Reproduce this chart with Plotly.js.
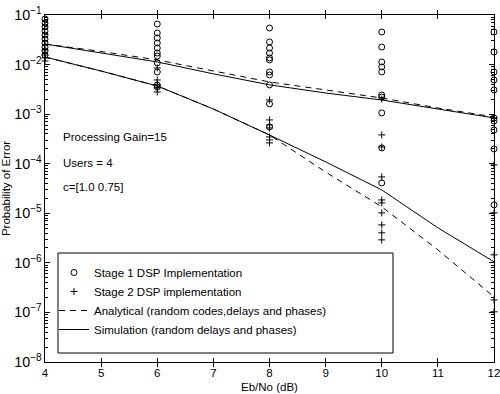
<!DOCTYPE html>
<html>
<head>
<meta charset="utf-8">
<script src="https://cdn.plot.ly/plotly-3.0.1.min.js"></script>
<style>
html,body{margin:0;padding:0;background:#fff;}
#chart{width:500px;height:394px;}
</style>
</head>
<body>
<div id="chart"></div>
<script>
// Eb/No values (dB) for the computed curves
const ebno = [4, 5, 6, 7, 8, 9, 10, 11, 12];

// Analytical (dashed) curves
const analyticalUpper = [2.6e-2, 1.84e-2, 1.24e-2, 7.4e-3, 4.46e-3, 3.08e-3, 2.12e-3, 1.33e-3, 8.8e-4];
const analyticalLower = [1.42e-2, 7.4e-3, 3.7e-3, 1.27e-3, 3.8e-4, 6.8e-5, 1.35e-5, 1.83e-6, 2.06e-7];

// Simulation (solid) curves
const simulationUpper = [2.6e-2, 1.71e-2, 1.13e-2, 6.5e-3, 3.9e-3, 2.67e-3, 1.93e-3, 1.27e-3, 8.4e-4];
const simulationLower = [1.42e-2, 7.4e-3, 3.7e-3, 1.27e-3, 3.8e-4, 1.09e-4, 2.96e-5, 5.1e-6, 1.05e-6];

// Stage 1 DSP implementation (circles)
const stage1X = [
  4,4,4,4,4,4,4,4,4,4,
  6,6,6,6,6,6,6,6,6,6,6,
  8,8,8,8,8,8,8,8,8,8,8,
  10,10,10,10,10,10,10,10,10,10,
  12,12,12,12,12,12,12,12,12,12
];
const stage1Y = [
  8.3e-2, 6.9e-2, 5.73e-2, 4.76e-2, 3.95e-2, 3.28e-2, 2.72e-2, 2.26e-2, 1.88e-2, 1.56e-2,
  6.59e-2, 4.34e-2, 3.44e-2, 2.72e-2, 2.16e-2, 1.71e-2, 1.49e-2, 1.08e-2, 7.1e-3, 3.88e-3, 3.53e-3,
  5.47e-2, 2.86e-2, 2.16e-2, 1.71e-2, 1.36e-2, 1.24e-2, 7.1e-3, 6.17e-3, 3.88e-3, 1.61e-3, 5.52e-4,
  4.54e-2, 2.26e-2, 1.13e-2, 8.95e-3, 7.1e-3, 2.44e-3, 2.22e-3, 1.06e-3, 2.08e-4, 4.1e-5,
  4.54e-2, 1.8e-2, 7.1e-3, 4.89e-3, 3.08e-3, 8.38e-4, 7.29e-4, 4.8e-4, 1.99e-4, 1.48e-5
];

// Stage 2 DSP implementation (pluses)
const stage2X = [
  4,4,4,4,
  6,6,6,6,6,
  8,8,8,8,8,8,8,
  10,10,10,10,10,10,10,10,10,10,
  12,12,12,12,12,12
];
const stage2Y = [
  1.97e-2, 1.56e-2, 1.36e-2, 1.18e-2,
  8.54e-3, 4.89e-3, 3.88e-3, 3.37e-3, 2.8e-3,
  1.93e-3, 7.64e-4, 6.05e-4, 5.27e-4, 3.47e-4, 3.02e-4, 2.63e-4,
  2.02e-3, 3.81e-4, 2.18e-4, 5.42e-5, 1.86e-5, 1.62e-5, 1.02e-5, 5.83e-6, 4.03e-6, 2.91e-6,
  8.38e-4, 9.46e-5, 1.02e-5, 1.45e-6, 1.79e-7, 1.03e-7
];

const xTicks = [4, 5, 6, 7, 8, 9, 10, 11, 12];
const decades = [-8, -7, -6, -5, -4, -3, -2];
const minorDigits = [2, 3, 4, 5, 6, 7, 8, 9];
const notes = ["Processing Gain=15", "Users = 4", "c=[1.0 0.75]"];
const legendNames = [
  "Stage 1 DSP Implementation",
  "Stage 2 DSP implementation",
  "Analytical (random codes,delays and phases)",
  "Simulation (random delays and phases)"
];

// minor tick positions on the log axis (2..9 within each decade)
const minorTickVals = [];
decades.forEach(d => minorDigits.forEach(m => minorTickVals.push(m * Math.pow(10, d))));

const FONT = "Liberation Sans, Arial, Helvetica, sans-serif";
const dashStyle = "6px,5px";

// plot area in pixels (for paper-coordinate placement of legend box and notes)
const PL = 45, PR = 494, PT = 15, PB = 362;
const px = v => (v - PL) / (PR - PL);
const py = v => (PB - v) / (PB - PT);

const traces = [
  {x: stage1X, y: stage1Y, mode: "markers", name: legendNames[0], cliponaxis: false, legendgroup: "g1",
   marker: {symbol: "circle-open", size: 6, color: "#000", line: {width: 1, color: "#000"}}},
  {x: stage2X, y: stage2Y, mode: "markers", name: legendNames[1], cliponaxis: false, legendgroup: "g2",
   marker: {symbol: "cross-thin-open", size: 5, color: "#000", line: {width: 1, color: "#000"}}},
  {x: ebno, y: analyticalUpper, mode: "lines", name: legendNames[2], legendgroup: "g3",
   line: {color: "#000", width: 1, dash: dashStyle}},
  {x: ebno, y: simulationUpper, mode: "lines", name: legendNames[3], legendgroup: "g4",
   line: {color: "#000", width: 1}},
  {x: ebno, y: analyticalLower, mode: "lines", name: legendNames[2], legendgroup: "g3", showlegend: false,
   line: {color: "#000", width: 1, dash: dashStyle}},
  {x: ebno, y: simulationLower, mode: "lines", name: legendNames[3], legendgroup: "g4", showlegend: false,
   line: {color: "#000", width: 1}},
  // carrier for the minor-tick axis (draws nothing visible)
  {x: ebno, y: simulationUpper, mode: "lines", yaxis: "y2", showlegend: false, hoverinfo: "skip",
   line: {color: "rgba(0,0,0,0)", width: 0}}
];

const layout = {
  width: 500, height: 394,
  margin: {l: PL, r: 500 - PR, t: PT, b: 394 - PB, pad: 0},
  paper_bgcolor: "#fff", plot_bgcolor: "#fff",
  font: {family: FONT, size: 11, color: "#000"},
  showlegend: true,
  xaxis: {
    range: [4, 12], tickvals: xTicks, ticktext: xTicks.map(String),
    ticks: "inside", ticklen: 4, tickcolor: "#000", tickwidth: 1,
    showline: true, linecolor: "#000", linewidth: 1, mirror: "allticks",
    showgrid: false, zeroline: false, automargin: false, ticklabeloverflow: "allow",
    tickfont: {family: FONT, size: 11.5, color: "#000"},
    title: {text: "Eb/No (dB)", font: {family: FONT, size: 11.5, color: "#000"}, standoff: 5}
  },
  yaxis: {
    type: "log", range: [-8, -1], dtick: 1,
    exponentformat: "power", showexponent: "all",
    ticks: "inside", ticklen: 5, tickcolor: "#000", tickwidth: 1,
    showline: true, linecolor: "#000", linewidth: 1, mirror: "allticks",
    showgrid: false, zeroline: false, automargin: false, ticklabeloverflow: "allow",
    tickfont: {family: FONT, size: 11.5, color: "#000"},
    title: {text: "Probability of Error", font: {family: FONT, size: 11.5, color: "#000"}, standoff: 4}
  },
  yaxis2: {
    type: "log", range: [-8, -1], overlaying: "y", side: "left",
    tickmode: "array", tickvals: minorTickVals, showticklabels: false,
    ticks: "inside", ticklen: 3, tickcolor: "#000", tickwidth: 1,
    showline: true, linecolor: "#000", linewidth: 1, mirror: "allticks",
    showgrid: false, zeroline: false, automargin: false
  },
  legend: {
    x: px(54), y: py(258), xanchor: "left", yanchor: "top",
    bgcolor: "rgba(0,0,0,0)", borderwidth: 0,
    font: {family: FONT, size: 11.5, color: "#000"},
    itemwidth: 30, tracegroupgap: 0
  },
  shapes: [{
    type: "rect", xref: "paper", yref: "paper",
    x0: px(58), x1: px(393), y0: py(353), y1: py(253),
    line: {color: "#000", width: 1}, fillcolor: "#fff", layer: "above"
  }],
  annotations: notes.map((t, i) => ({
    text: t, xref: "paper", yref: "paper",
    x: px(61), y: py([137, 163, 187][i]),
    xanchor: "left", yanchor: "middle", showarrow: false,
    font: {family: FONT, size: 11.5, color: "#000"}
  }))
};

Plotly.newPlot("chart", traces, layout, {displayModeBar: false, staticPlot: true});
</script>
</body>
</html>
